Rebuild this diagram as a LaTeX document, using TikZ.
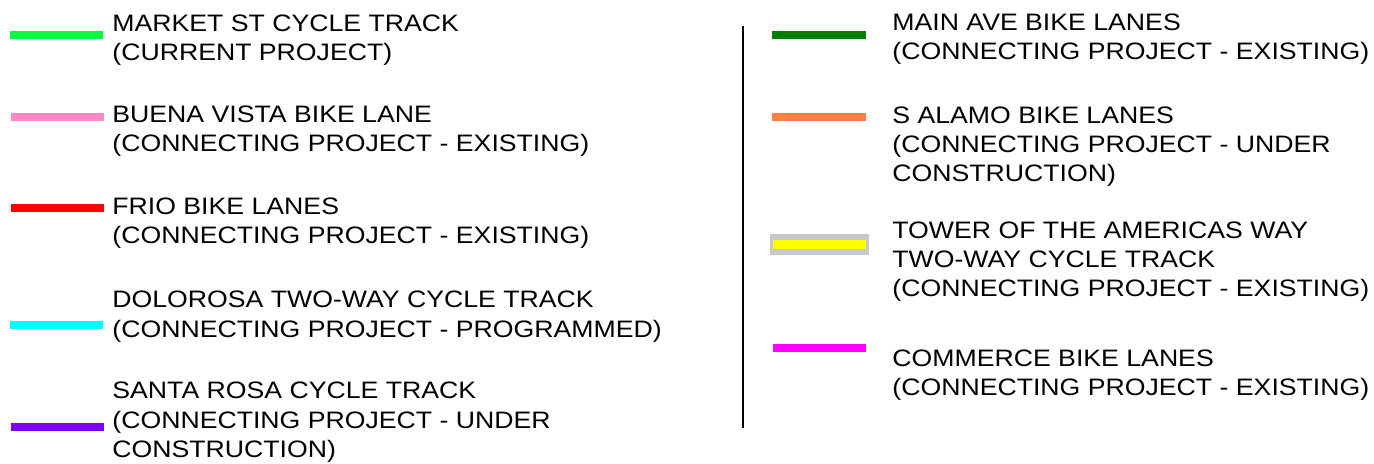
\documentclass[tikz,border=0pt]{standalone}
\usepackage{fontspec}
\setmainfont[FakeStretch=1.12]{Liberation Sans}
\usepackage{tikz}

\definecolor{marketgreen}{HTML}{00FF40}
\definecolor{buenapink}{HTML}{FF88C8}
\definecolor{friored}{HTML}{FF0000}
\definecolor{dolorosacyan}{HTML}{00FFFF}
\definecolor{santapurple}{HTML}{8000FF}
\definecolor{maingreen}{HTML}{008000}
\definecolor{alamoorange}{HTML}{FF8040}
\definecolor{toweryellow}{HTML}{FFFF00}
\definecolor{towergray}{HTML}{C8C8C8}
\definecolor{commercemagenta}{HTML}{FF00FF}

\begin{document}
\begin{tikzpicture}[x=0.5pt, y=-0.5pt,
    every node/.style={anchor=base west, inner sep=0pt, align=left,
      font=\fontsize{11.9}{14.7}\selectfont},
    swatch/.style={line width=4pt}]
        \useasboundingbox (0,0) rectangle (1374,464);

        % left column (nodes sit on the baseline of their last line)
        \draw[swatch, marketgreen] (10,35) -- (103,35);
        \node (market) at (112,60.5) {MARKET ST CYCLE TRACK\\(CURRENT PROJECT)};
        \draw[swatch, buenapink] (11,117.5) -- (104,117.5);
        \node (buena) at (112,152) {BUENA VISTA BIKE LANE\\(CONNECTING PROJECT - EXISTING)};
        \draw[swatch, friored] (11,208.5) -- (104,208.5);
        \node (frio) at (112,244) {FRIO BIKE LANES\\(CONNECTING PROJECT - EXISTING)};
        \draw[swatch, dolorosacyan] (10,325.5) -- (103,325.5);
        \node (dolorosa) at (112,337) {DOLOROSA TWO-WAY CYCLE TRACK\\(CONNECTING PROJECT - PROGRAMMED)};
        \draw[swatch, santapurple] (11,426.5) -- (104,426.5);
        \node (santarosa) at (112,457.5) {SANTA ROSA CYCLE TRACK\\(CONNECTING PROJECT - UNDER\\CONSTRUCTION)};

        % divider
        \draw[line width=1pt] (743,26) -- (743,428);

        % right column
        \draw[swatch, maingreen] (772,35) -- (866,35);
        \node (mainave) at (892,59.5) {MAIN AVE BIKE LANES\\(CONNECTING PROJECT - EXISTING)};
        \draw[swatch, alamoorange] (772,117.5) -- (866,117.5);
        \node (alamo) at (892,182) {S ALAMO BIKE LANES\\(CONNECTING PROJECT - UNDER\\CONSTRUCTION)};
        \fill[towergray] (770,234) rectangle (869,255);
        \fill[toweryellow] (773,240) rectangle (866,249);
        \node (tower) at (892,297) {TOWER OF THE AMERICAS WAY\\TWO-WAY CYCLE TRACK\\(CONNECTING PROJECT - EXISTING)};
        \draw[swatch, commercemagenta] (773,347.5) -- (866,347.5);
        \node (commerce) at (892,395.5) {COMMERCE BIKE LANES\\(CONNECTING PROJECT - EXISTING)};
      \end{tikzpicture}
\end{document}
